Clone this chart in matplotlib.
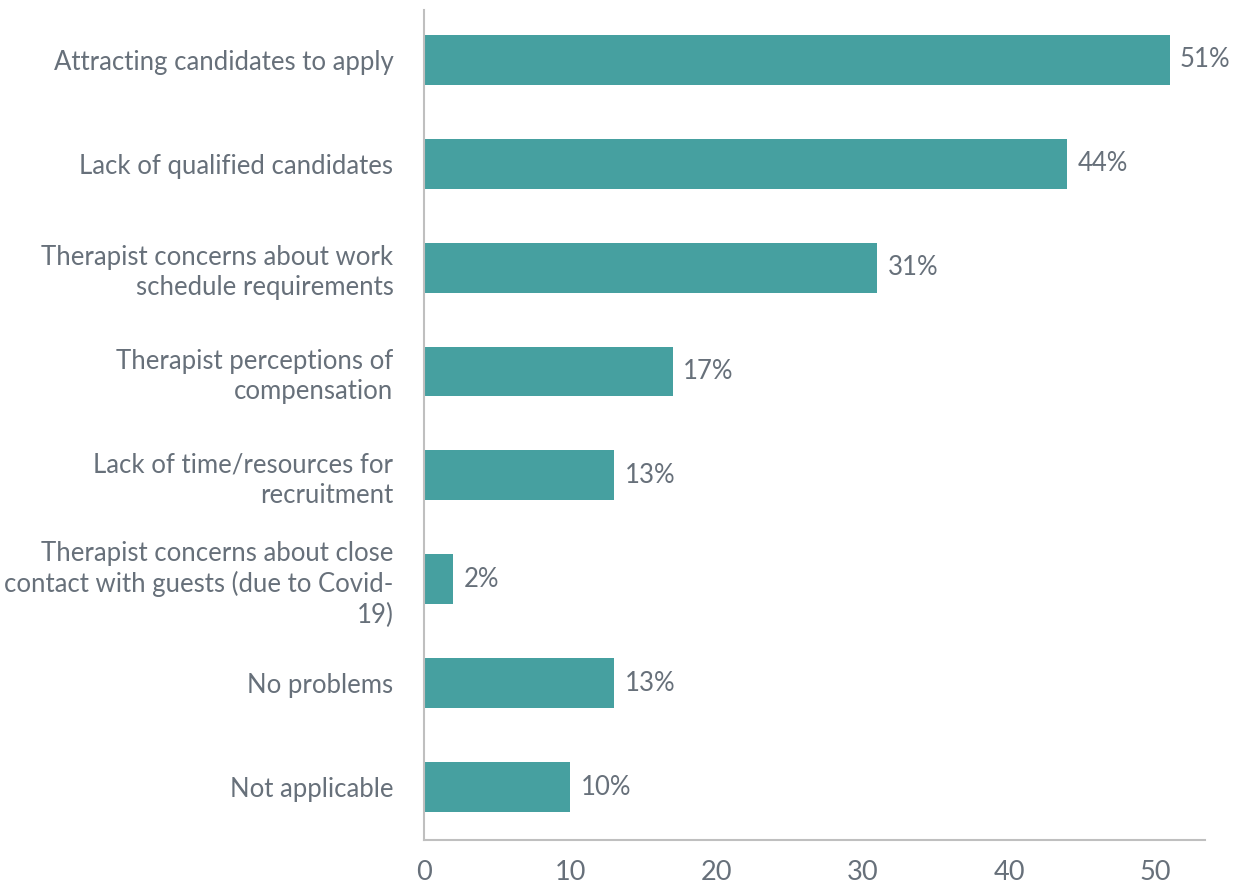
import matplotlib.pyplot as plt

plt.rcParams['font.family'] = ['Lato', 'DejaVu Sans']

categories = [
    'Attracting candidates to apply',
    'Lack of qualified candidates',
    'Therapist concerns about work\nschedule requirements',
    'Therapist perceptions of\ncompensation',
    'Lack of time/resources for\nrecruitment',
    'Therapist concerns about close\ncontact with guests (due to Covid-\n19)',
    'No problems',
    'Not applicable',
]
values = [51, 44, 31, 17, 13, 2, 13, 10]
xticks = [0, 10, 20, 30, 40, 50]

bar_color = '#46A0A0'
text_color = '#67707A'
spine_color = '#BFBFBF'

fig = plt.figure(figsize=(12.38, 8.86), dpi=100)
ax = fig.add_axes([0.3425, 0.0519, 0.6308, 0.9368])

ypos = list(range(len(categories)))
ax.barh(ypos, values, height=0.48, color=bar_color)
for y, v in zip(ypos, values):
    ax.text(v + 0.7, y, f'{v}%', va='center', ha='left',
            fontsize=18.5, color=text_color)

ax.set_yticks(ypos)
ax.set_yticklabels(categories, fontsize=18.5, color=text_color, linespacing=1.25)
ax.set_xticks(xticks)
ax.set_xticklabels([str(t) for t in xticks], fontsize=19.5, color=text_color)
ax.set_xlim(0, 53.4)
ax.set_ylim(7.51, -0.48)

ax.tick_params(axis='both', length=0)
ax.tick_params(axis='y', pad=22)
ax.tick_params(axis='x', pad=14.5)
for side in ['top', 'right']:
    ax.spines[side].set_visible(False)
for side in ['left', 'bottom']:
    ax.spines[side].set_color(spine_color)
    ax.spines[side].set_linewidth(1.5)

fig.savefig('out.png', dpi=100)
